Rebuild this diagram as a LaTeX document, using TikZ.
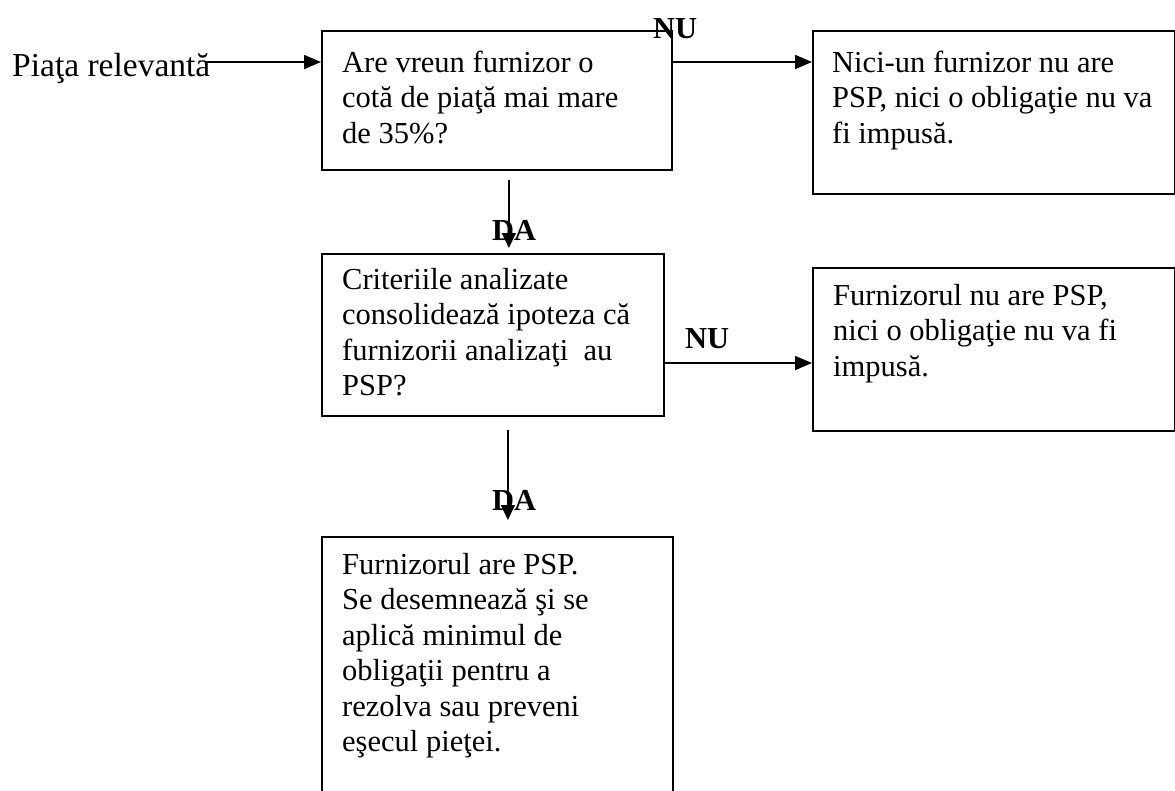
\documentclass[tikz,border=0pt]{standalone}
\usepackage{fontspec}
\setmainfont{Liberation Serif}
\usetikzlibrary{arrows.meta}
\begin{document}
\begin{tikzpicture}[x=1pt,y=-1pt,
  box/.style={draw, line width=1.8pt, inner sep=0pt, anchor=north west},
  txt/.style={inner sep=0pt, anchor=base west, font=\fontsize{30.5}{35.5}\selectfont},
  lbl/.style={inner sep=0pt, anchor=base west, font=\fontsize{30.5}{35.5}\selectfont\bfseries},
  arr/.style={line width=1.8pt, -{Triangle[length=17pt,width=14pt]}},
  varr/.style={line width=1.5pt, -{Triangle[length=15pt,width=14pt]}}]
\useasboundingbox (0,0) rectangle (1175,790);
\begin{scope}
\clip (0,0) rectangle (1175,790);
% boxes
\node[box, minimum width=350pt, minimum height=139pt] (b1) at (321,30) {};
\node[box, minimum width=362pt, minimum height=163pt] (b2) at (812,30) {};
\node[box, minimum width=342pt, minimum height=162pt] (b3) at (321,253) {};
\node[box, minimum width=362pt, minimum height=163pt] (b4) at (812,267) {};
\node[box, minimum width=351pt, minimum height=300pt] (b5) at (321,536) {};
% texts
\node[txt, font=\fontsize{33.5}{38}\selectfont] (piata) at (12,76) {Piaţa relevantă};
\node[txt] (t1) at (342,72) {\parbox[t]{400pt}{Are vreun furnizor o\\cotă de piaţă mai mare\\de 35\%?}};
\node[txt] (t2) at (832,72) {\parbox[t]{400pt}{Nici-un furnizor nu are\\PSP, nici o obligaţie nu va\\fi impusă.}};
\node[txt] (t3) at (342,289) {\parbox[t]{400pt}{Criteriile analizate\\consolidează ipoteza că\\furnizorii analizaţi\ \ au\\PSP?}};
\node[txt] (t4) at (833,305) {\parbox[t]{400pt}{Furnizorul nu are PSP,\\nici o obligaţie nu va fi\\impusă.}};
\node[txt] (t5) at (342,574) {\parbox[t]{400pt}{Furnizorul are PSP.\\Se desemnează şi se\\aplică minimul de\\obligaţii pentru a\\rezolva sau preveni\\eşecul pieţei.}};
% labels
\node[lbl] (nu1) at (653,38) {NU};
\node[lbl] (da1) at (492,240) {DA};
\node[lbl] (nu2) at (685,348) {NU};
\node[lbl] (da2) at (492,510) {DA};
% connectors
\coordinate (ps) at (205,62);
\draw[arr] (ps) -- (ps -| b1.west);
\coordinate (nu1s) at ([yshift=-32pt]b1.north east);
\draw[arr] (nu1s) -- (nu1s -| b2.west);
\coordinate (nu2s) at ([yshift=-110pt]b3.north east);
\draw[arr] (nu2s) -- (nu2s -| b4.west);
\coordinate (da1s) at ([xshift=12pt,yshift=-9pt]b1.south);
\coordinate (da1e) at (da1s |- b3.north);
\draw[varr] (da1s) -- ([yshift=5pt]da1e);
\coordinate (da2s) at ([xshift=15pt,yshift=-13pt]b3.south);
\coordinate (da2e) at (da2s |- b5.north);
\draw[varr] (da2s) -- ([yshift=16pt]da2e);
\end{scope}
\end{tikzpicture}
\end{document}
